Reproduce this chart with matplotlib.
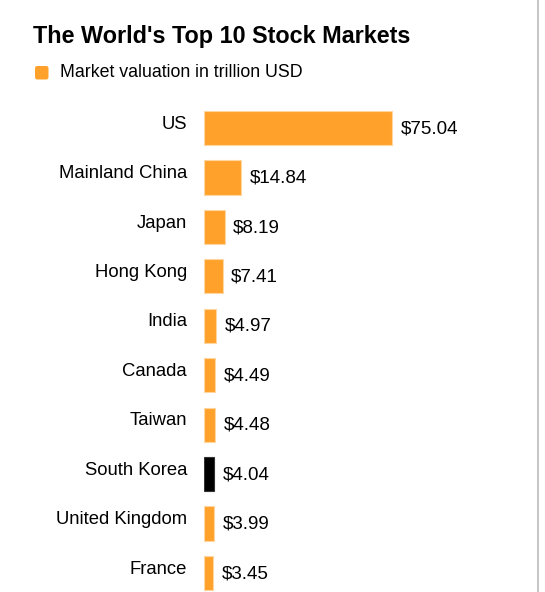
import matplotlib
matplotlib.use("Agg")
import matplotlib.pyplot as plt
from matplotlib.patches import FancyBboxPatch
from matplotlib.lines import Line2D

categories = ["US", "Mainland China", "Japan", "Hong Kong", "India", "Canada",
              "Taiwan", "South Korea", "United Kingdom", "France"]
values = [75.04, 14.84, 8.19, 7.41, 4.97, 4.49, 4.48, 4.04, 3.99, 3.45]
value_labels = ["$75.04", "$14.84", "$8.19", "$7.41", "$4.97", "$4.49",
                "$4.48", "$4.04", "$3.99", "$3.45"]
highlight = "South Korea"

title = "The World's Top 10 Stock Markets"
legend_label = "Market valuation in trillion USD"

ORANGE = "#ffa12b"
plt.rcParams['font.family'] = ['Liberation Sans', 'DejaVu Sans']

W, H = 545, 592
fig = plt.figure(figsize=(W / 100, H / 100), dpi=100)
fig.patch.set_facecolor("white")

ax_left = 204 / W
ax_right = 537 / W
ax_top = (H - 103.3) / H
ax = fig.add_axes([ax_left, 0, ax_right - ax_left, ax_top])
ax.set_xlim(0, 333 / 2.505)
ax.set_ylim(9 + (H - 573) / 49.44, -0.5)

ypos = list(range(len(categories)))
colors = ["black" if c == highlight else ORANGE for c in categories]
edges = ["#333333" if c == highlight else "#ffd6a0" for c in categories]
ax.barh(ypos, values, height=0.69, color=colors, edgecolor=edges, linewidth=0.8)

for y, v, lab, cat in zip(ypos, values, value_labels, categories):
    ax.annotate(lab, (v, y), xytext=(6.3, -0.5), textcoords="offset points",
                ha="left", va="center", fontsize=13.5, color="black")
    ax.annotate(cat, (0, y), xytext=(-12.3, 2.8), textcoords="offset points",
                ha="right", va="center", fontsize=13.3, color="black",
                annotation_clip=False)

ax.set_axis_off()

fig.text(33 / W, 1 - 36 / H, title, fontsize=16.8, fontweight="bold",
         ha="left", va="center", color="black")

sq = FancyBboxPatch((35 / W, 1 - 79.5 / H), 13.5 / W, 13.5 / H,
                    boxstyle="round,pad=0,rounding_size=0.004",
                    transform=fig.transFigure, facecolor=ORANGE,
                    edgecolor="none")
fig.add_artist(sq)
fig.text(60 / W, 1 - 72.5 / H, legend_label, fontsize=12.8, ha="left",
         va="center", color="black")

fig.add_artist(Line2D([537.5 / W, 537.5 / W], [0, 1], transform=fig.transFigure,
                      color="#bbbbbb", linewidth=1.2))

fig.savefig("out.png", dpi=100, facecolor="white")
